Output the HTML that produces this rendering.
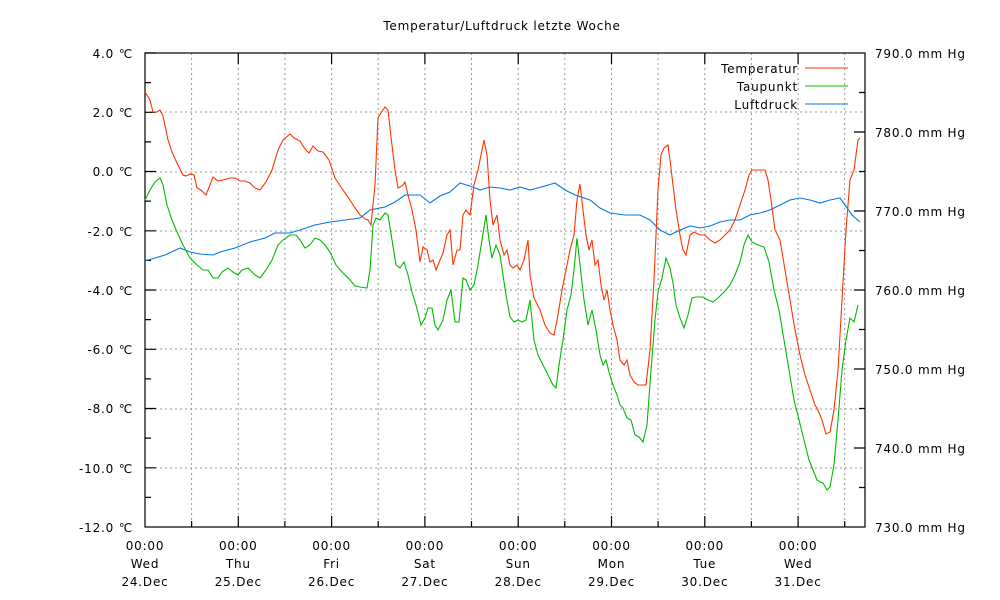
<!DOCTYPE html>
<html><head><meta charset="utf-8"><style>body{margin:0;background:#fff}svg{display:block;font-family:"DejaVu Sans","Liberation Sans",sans-serif;font-size:12px;letter-spacing:0.8px}</style></head><body>
<svg width="1000" height="600" xmlns="http://www.w3.org/2000/svg">
<rect width="1000" height="600" fill="#fff"/>
<text x="502" y="30" text-anchor="middle" font-size="12">Temperatur/Luftdruck letzte Woche</text>
<g stroke="#999" stroke-dasharray="2,3" stroke-width="1">
<line x1="145" y1="112" x2="865" y2="112"/><line x1="145" y1="172" x2="865" y2="172"/><line x1="145" y1="231" x2="865" y2="231"/><line x1="145" y1="290" x2="865" y2="290"/><line x1="145" y1="349" x2="865" y2="349"/><line x1="145" y1="409" x2="865" y2="409"/><line x1="145" y1="468" x2="865" y2="468"/>
<line x1="191.6" y1="53" x2="191.6" y2="527"/><line x1="238.3" y1="53" x2="238.3" y2="527"/><line x1="284.9" y1="53" x2="284.9" y2="527"/><line x1="331.6" y1="53" x2="331.6" y2="527"/><line x1="378.2" y1="53" x2="378.2" y2="527"/><line x1="424.9" y1="53" x2="424.9" y2="527"/><line x1="471.5" y1="53" x2="471.5" y2="527"/><line x1="518.2" y1="53" x2="518.2" y2="527"/><line x1="564.8" y1="53" x2="564.8" y2="527"/><line x1="611.5" y1="53" x2="611.5" y2="527"/><line x1="658.1" y1="53" x2="658.1" y2="527"/><line x1="704.8" y1="53" x2="704.8" y2="527"/><line x1="751.4" y1="53" x2="751.4" y2="527"/><line x1="798.1" y1="53" x2="798.1" y2="527"/><line x1="844.7" y1="53" x2="844.7" y2="527"/>
</g>
<rect x="145" y="53" width="720" height="474" fill="none" stroke="#000" stroke-width="1.2"/>
<g stroke="#000" stroke-width="1.2">
<path d="M145 53h11M145 82.6h6M145 112.3h11M145 141.9h6M145 171.5h11M145 201.1h6M145 230.8h11M145 260.4h6M145 290h11M145 319.6h6M145 349.3h11M145 378.9h6M145 408.5h11M145 438.1h6M145 467.8h11M145 497.4h6"/>
<path d="M865 92.5h-6M865 132h-11M865 171.5h-6M865 211h-11M865 250.5h-6M865 290h-11M865 329.5h-6M865 369h-11M865 408.5h-6M865 448h-11M865 487.5h-6"/>
<path d="M238.3 527v-11M331.6 527v-11M424.9 527v-11M518.2 527v-11M611.5 527v-11M704.8 527v-11M798.1 527v-11M191.6 527v-6M284.9 527v-6M378.2 527v-6M471.5 527v-6M564.8 527v-6M658.1 527v-6M751.4 527v-6M844.7 527v-6"/>
<path d="M238.3 53v11M331.6 53v11M424.9 53v11M518.2 53v11M611.5 53v11M704.8 53v11M798.1 53v11"/>
</g>
<g text-anchor="end">
<text x="133" y="58">4.0 ℃</text><text x="133" y="117">2.0 ℃</text><text x="133" y="176">0.0 ℃</text><text x="133" y="236">-2.0 ℃</text><text x="133" y="295">-4.0 ℃</text><text x="133" y="354">-6.0 ℃</text><text x="133" y="413">-8.0 ℃</text><text x="133" y="473">-10.0 ℃</text><text x="133" y="532">-12.0 ℃</text>
</g>
<g>
<text x="875" y="58">790.0 mm Hg</text><text x="875" y="137">780.0 mm Hg</text><text x="875" y="216">770.0 mm Hg</text><text x="875" y="295">760.0 mm Hg</text><text x="875" y="374">750.0 mm Hg</text><text x="875" y="453">740.0 mm Hg</text><text x="875" y="532">730.0 mm Hg</text>
</g>
<g text-anchor="middle">
<text x="145" y="550">00:00</text><text x="145" y="568">Wed</text><text x="145" y="586">24.Dec</text>
<text x="238.3" y="550">00:00</text><text x="238.3" y="568">Thu</text><text x="238.3" y="586">25.Dec</text>
<text x="331.6" y="550">00:00</text><text x="331.6" y="568">Fri</text><text x="331.6" y="586">26.Dec</text>
<text x="424.9" y="550">00:00</text><text x="424.9" y="568">Sat</text><text x="424.9" y="586">27.Dec</text>
<text x="518.2" y="550">00:00</text><text x="518.2" y="568">Sun</text><text x="518.2" y="586">28.Dec</text>
<text x="611.5" y="550">00:00</text><text x="611.5" y="568">Mon</text><text x="611.5" y="586">29.Dec</text>
<text x="704.8" y="550">00:00</text><text x="704.8" y="568">Tue</text><text x="704.8" y="586">30.Dec</text>
<text x="798.1" y="550">00:00</text><text x="798.1" y="568">Wed</text><text x="798.1" y="586">31.Dec</text>
</g>
<g text-anchor="end">
<text x="798" y="73">Temperatur</text><text x="798" y="91">Taupunkt</text><text x="798" y="109">Luftdruck</text>
</g>
<path d="M805 68h43" stroke="#ff3300"/><path d="M805 86h43" stroke="#00bb00"/><path d="M805 104h43" stroke="#0077ee"/>
<g fill="none" stroke-width="1.1">
<polyline stroke="#0077ee" points="145,261 155,258 165,255 180,248 190,252 200,254 213,255 220,252 235,248 250,242 265,238 275,233 290,233 300,230 315,225 330,222 345,220 360,218 370,210 385,207 395,202 405,195 420,195 430,203 440,196 450,192 460,183 470,186 480,190 490,187 500,188 510,190 520,187 530,190 545,186 555,183 565,190 575,195 590,200 600,208 610,213 625,215 640,215 650,220 660,230 670,235 680,230 690,226 700,228 710,226 720,222 730,220 740,220 750,215 760,213 770,210 780,205 790,200 800,198 810,200 820,203 830,200 840,198 845,205 852,215 860,222"/>
<polyline stroke="#00bb00" points="145,200 150,190 155,182 160,178 163,185 167,205 172,220 177,232 183,245 190,258 197,265 203,270 208,270 213,278 218,278 222,272 228,268 233,272 238,275 242,270 248,268 255,275 260,278 266,270 272,260 278,245 283,240 290,235 296,235 300,240 305,248 310,245 315,238 320,240 325,245 330,252 336,265 343,273 350,280 355,286 360,287 367,288 370,270 373,225 376,218 380,220 385,213 388,215 392,240 396,265 400,268 404,262 408,275 412,292 416,305 421,325 425,318 428,308 432,308 435,325 438,330 443,320 447,300 451,290 455,322 459,322 463,278 466,280 470,290 474,285 478,265 482,240 486,215 489,240 492,258 496,245 500,255 503,275 506,295 510,317 514,322 518,320 522,322 526,320 530,300 534,340 538,355 543,365 548,375 553,385 556,388 559,365 563,340 567,310 571,295 574,270 577,238 580,265 584,300 588,325 592,310 596,330 600,355 603,365 606,360 609,372 613,385 617,395 620,405 623,408 627,418 631,420 635,435 639,437 643,442 647,425 651,370 655,320 658,292 662,278 666,258 670,268 673,283 676,305 680,318 684,328 688,315 692,298 696,297 703,297 708,300 713,302 718,298 724,292 730,285 735,275 740,262 744,245 748,235 752,242 758,245 764,247 769,262 774,290 779,310 784,340 789,370 794,400 799,420 804,440 809,460 813,470 817,480 820,482 823,483 827,490 830,487 834,465 838,420 842,370 846,340 850,318 854,322 858,305"/>
<polyline stroke="#ff3300" points="145,92 150,100 153,112 157,112 160,110 163,116 168,140 172,152 177,163 183,175 186,176 190,174 194,175 197,188 201,190 206,195 213,177 218,181 223,180 230,178 235,178 240,181 245,181 250,183 255,188 260,190 266,182 272,170 278,150 283,140 290,134 294,138 300,141 305,149 309,153 313,146 318,151 323,152 329,160 335,178 343,190 350,200 355,208 360,215 365,219 368,220 371,225 375,185 378,118 381,113 385,107 388,110 391,137 395,170 398,188 402,186 405,182 408,195 412,210 416,230 420,262 423,247 427,250 430,262 433,260 436,270 440,260 443,253 447,235 450,230 453,265 457,250 460,250 463,215 466,210 470,215 474,185 478,170 481,155 484,140 487,155 490,200 493,225 497,215 500,240 504,255 507,250 510,265 513,268 517,265 520,270 524,260 528,240 530,275 534,298 540,310 545,325 550,333 554,335 558,315 562,290 566,270 570,250 574,235 577,200 580,184 583,210 586,235 589,250 592,240 595,265 598,260 601,285 604,300 607,290 610,310 613,325 617,340 620,360 624,365 627,360 630,375 634,382 638,385 642,385 646,385 650,350 654,280 658,190 661,155 664,148 668,145 670,160 673,185 676,210 680,235 683,250 686,255 690,235 694,232 700,235 705,235 710,240 715,243 720,240 725,235 730,230 735,220 740,205 745,190 749,175 752,170 758,170 765,170 768,180 771,200 775,230 780,240 785,270 790,300 795,330 800,355 805,375 810,390 815,405 818,410 822,420 826,434 830,432 834,410 838,370 842,300 846,230 850,180 854,170 858,140 860,138"/>
</g>
</svg>
</body></html>
